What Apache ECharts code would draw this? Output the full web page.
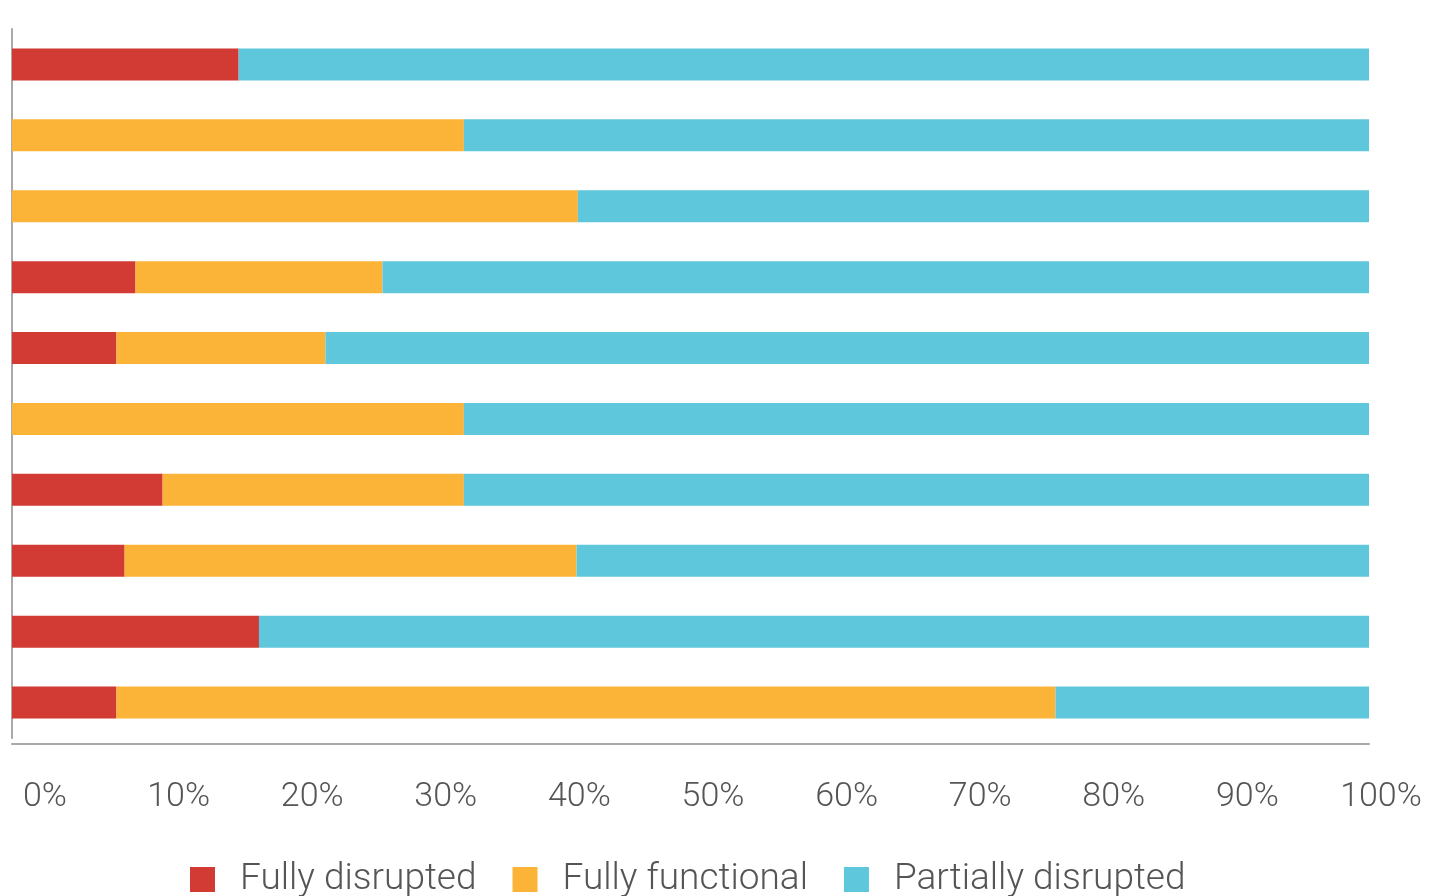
<!DOCTYPE html>
<html>
<head>
<meta charset="utf-8">
<script src="https://cdn.jsdelivr.net/npm/echarts@6/dist/echarts.min.js"></script>
<style>
  html, body { margin: 0; padding: 0; background: #fff; }
  #chart { width: 1432px; height: 896px; }
</style>
</head>
<body>
<div id="chart"></div>
<script>
  // rows top to bottom, no labels shown in the original
  var categories = ['1', '2', '3', '4', '5', '6', '7', '8', '9', '10']
  var fullyDisrupted = [16.7, 0, 0, 9.1, 7.7, 0, 11.1, 8.3, 18.2, 7.7]
  var fullyFunctional = [0, 33.3, 41.7, 18.2, 15.4, 33.3, 22.2, 33.3, 0, 69.2]
  var partiallyDisrupted = [83.3, 66.7, 58.3, 72.7, 76.9, 66.7, 66.7, 58.4, 81.8, 23.1]
  var tickValues = [0, 10, 20, 30, 40, 50, 60, 70, 80, 90, 100]

  var axisColor = '#a9a9a9'
  var textColor = '#555555'
  var fontName = 'Roboto'

  var chart = echarts.init(document.getElementById('chart'))

  function barSeries(name, data, color) {
    return {
      name: name,
      type: 'bar',
      stack: 'total',
      barWidth: 32,
      xAxisIndex: 0,
      yAxisIndex: 0,
      itemStyle: { color: color },
      data: data
    }
  }

  var option = {
    backgroundColor: '#fff',
    animation: false,
    grid: [
      { left: 12, right: 63, top: 29, bottom: 158 },
      // label strip, the original labels sit off the bar scale
      { left: 45, right: 51, top: 770, height: 2 }
    ],
    xAxis: [
      {
        gridIndex: 0,
        type: 'value',
        min: 0,
        max: 100,
        interval: 10,
        offset: 6,
        axisLine: { show: true, lineStyle: { color: axisColor, width: 2 } },
        axisTick: { show: false },
        axisLabel: { show: false },
        splitLine: { show: false }
      },
      {
        gridIndex: 1,
        type: 'value',
        min: tickValues[0],
        max: tickValues[tickValues.length - 1],
        interval: 10,
        axisLine: { show: false },
        axisTick: { show: false },
        splitLine: { show: false },
        axisLabel: {
          margin: 8,
          color: textColor,
          fontFamily: fontName,
          fontWeight: 300,
          fontSize: 34,
          formatter: '{value}%'
        }
      }
    ],
    yAxis: [
      {
        gridIndex: 0,
        type: 'category',
        inverse: true,
        data: categories,
        axisLine: { show: true, lineStyle: { color: axisColor, width: 2 } },
        axisTick: { show: false },
        axisLabel: { show: false }
      },
      {
        gridIndex: 1,
        type: 'value',
        show: false
      }
    ],
    legend: {
      left: 185,
      top: 856,
      icon: 'rect',
      itemWidth: 25,
      itemHeight: 25,
      itemGap: 36,
      textStyle: {
        color: textColor,
        fontFamily: fontName,
        fontWeight: 300,
        fontSize: 37,
        padding: [0, 0, 0, 20]
      },
      data: ['Fully disrupted', 'Fully functional', 'Partially disrupted']
    },
    series: [
      barSeries('Fully disrupted', fullyDisrupted, '#d13b34'),
      barSeries('Fully functional', fullyFunctional, '#fbb437'),
      barSeries('Partially disrupted', partiallyDisrupted, '#5fc7db')
    ]
  }

  chart.setOption(option)
</script>
</body>
</html>
